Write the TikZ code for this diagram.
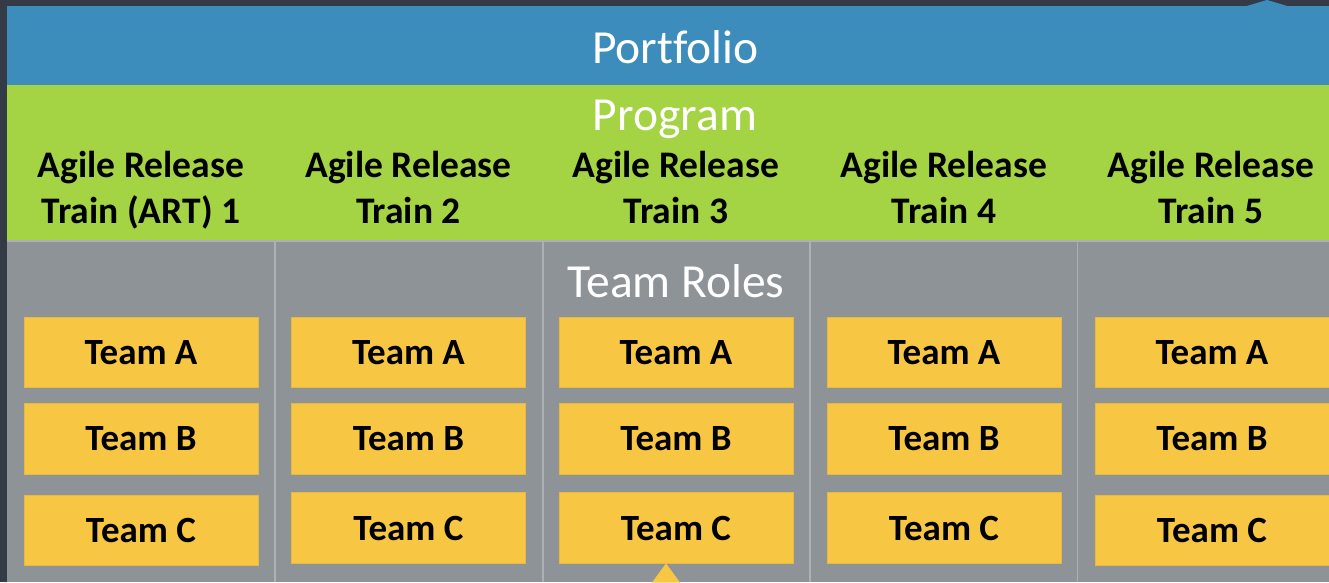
\documentclass[tikz,border=0pt]{standalone}
\usepackage{fontspec}
\setmainfont{Carlito}[Ligatures=NoCommon]
\definecolor{darkbg}{HTML}{353B46}
\definecolor{portblue}{HTML}{3C8DBB}
\definecolor{proggreen}{HTML}{A4D344}
\definecolor{rolegray}{HTML}{8E9398}
\definecolor{teamyellow}{HTML}{F7C744}
\definecolor{teamedge}{HTML}{E6B944}
\definecolor{sepline}{HTML}{ADB1B5}
\begin{document}
\begin{tikzpicture}[x=1pt,y=-1pt,
  title/.style={text=white, inner sep=0pt, anchor=base, font=\fontsize{47.5}{57}\selectfont},
  artlabel/.style={text=black, inner sep=0pt, anchor=base, align=center, font=\fontsize{37.5}{46}\selectfont\bfseries},
  teambox/.style={fill=teamyellow, draw=teamedge, line width=0.8pt, minimum width=234pt, minimum height=70.5pt, inner sep=0pt, text=black, font=\fontsize{37}{44}\selectfont\bfseries},
  sep/.style={draw=sepline, line width=1.5pt}]
\useasboundingbox (0,0) rectangle (1329,582);
\clip (0,0) rectangle (1329,582);
% background bands
\fill[darkbg] (0,0) rectangle (1329,582);
\fill[portblue] (7,6) rectangle (1329,85);
\fill[portblue] (1245,6.5) -- (1267,0) -- (1289,6.5) -- cycle;
\fill[proggreen] (7,85) rectangle (1329,241);
\fill[rolegray] (7,241) rectangle (1329,582);
\draw[sep, line width=1.2pt] (7,241) -- (1329,241);
\foreach \sx in {275,543,810,1077.5} \draw[sep] (\sx,241) -- (\sx,582);
% titles
\node[title] (portfolio) at (675.5,63) {Portfolio};
\node[title] (program) at (675,130) {Program};
\node[title] (roles) at (676,297) {Team Roles};
% ART labels (anchor base = baseline of the last line)
\node[artlabel] (art1) at (141,223) {Agile Release\\Train (ART) 1};
\node[artlabel] (art2) at (408.5,223) {Agile Release\\Train 2};
\node[artlabel] (art3) at (676,223) {Agile Release\\Train 3};
\node[artlabel] (art4) at (944,223) {Agile Release\\Train 4};
\node[artlabel] (art5) at (1211,223) {Agile Release\\Train 5};
% team boxes
\node[teambox] (a1) at (141,352.5) {Team A};
\node[teambox] (b1) at (141,439) {Team B};
\node[teambox] (c1) at (141,530.5) {Team C};
\node[teambox] (a2) at (408.5,352.5) {Team A};
\node[teambox] (b2) at (408.5,439) {Team B};
\node[teambox] (c2) at (408.5,528) {Team C};
\node[teambox] (a3) at (676,352.5) {Team A};
\node[teambox] (b3) at (676,439) {Team B};
\node[teambox] (c3) at (676,528) {Team C};
\node[teambox] (a4) at (944,352.5) {Team A};
\node[teambox] (b4) at (944,439) {Team B};
\node[teambox] (c4) at (944,528) {Team C};
\node[teambox] (a5) at (1212,352.5) {Team A};
\node[teambox] (b5) at (1212,439) {Team B};
\node[teambox] (c5) at (1212,530.5) {Team C};
% small pointer under Team C of train 3
\fill[teamyellow] (666,563.3) -- (652,582.5) -- (680,582.5) -- cycle;
\end{tikzpicture}
\end{document}
